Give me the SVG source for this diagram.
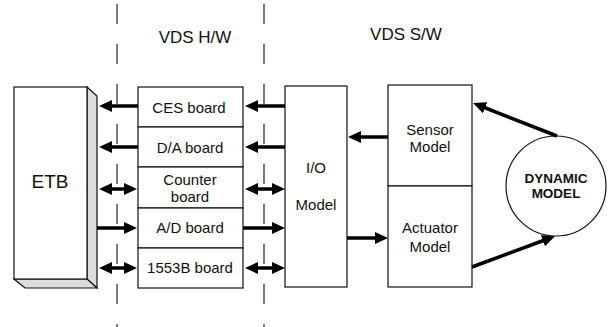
<svg xmlns="http://www.w3.org/2000/svg" width="610" height="327" viewBox="0 0 610 327">
<defs>
<marker id="ah" markerUnits="userSpaceOnUse" markerWidth="14" markerHeight="12" viewBox="0 0 14 12" refX="5" refY="6" orient="auto-start-reverse">
<path d="M0,0 L13,6 L0,12 z" fill="#000"/>
</marker>
<style>
.box{fill:#fff;stroke:#111;stroke-width:1.2}
.dash{stroke:#222;stroke-width:1.2;stroke-dasharray:20 20;fill:none}
.t{font-family:"Liberation Sans",Arial,sans-serif;font-size:15px;fill:#111;text-anchor:middle}
.big{font-size:17px}
.bold{font-weight:bold;font-size:13.5px}
.c{stroke:#000;stroke-width:3.5;fill:none}
.ar{marker-end:url(#ah)}
.dbl{marker-start:url(#ah);marker-end:url(#ah)}
</style>
</defs>
<rect width="610" height="327" fill="#fff"/>
<g id="dividers">
<line class="dash" x1="117" y1="4" x2="117" y2="327"/>
<line class="dash" x1="264" y1="4" x2="264" y2="327"/>
</g>
<g id="labels">
<text class="t big" x="195" y="43">VDS H/W</text>
<text class="t big" x="406" y="40">VDS S/W</text>
</g>
<g id="etb">
<path d="M87,87 L97,96 L97,288 L87,279 Z" fill="#dcdcdc" stroke="#111" stroke-width="1.2"/>
<path d="M14,279 L87,279 L97,288 L25,288 Z" fill="#dcdcdc" stroke="#111" stroke-width="1.2"/>
<rect class="box" x="14" y="87" width="73" height="192"/>
<text class="t" x="50" y="188" style="font-size:19px">ETB</text>
</g>
<g id="ces-board">
<rect class="box" x="138" y="87" width="105" height="40"/>
<text class="t" x="189" y="113">CES board</text>
</g>
<g id="da-board">
<rect class="box" x="138" y="127" width="105" height="40"/>
<text class="t" x="190" y="153">D/A board</text>
</g>
<g id="counter-board">
<rect class="box" x="138" y="167" width="105" height="41"/>
<text class="t" x="190" y="185">Counter</text>
<text class="t" x="190" y="202">board</text>
</g>
<g id="ad-board">
<rect class="box" x="138" y="208" width="105" height="40"/>
<text class="t" x="190" y="233">A/D board</text>
</g>
<g id="b1553-board">
<rect class="box" x="138" y="248" width="105" height="40"/>
<text class="t" x="190" y="273">1553B board</text>
</g>
<g id="io-model">
<rect class="box" x="285" y="86" width="62" height="201"/>
<text class="t" x="316" y="173">I/O</text>
<text class="t" x="316" y="210">Model</text>
</g>
<g id="sensor-model">
<rect class="box" x="388" y="85" width="84" height="101"/>
<text class="t" x="430" y="135">Sensor</text>
<text class="t" x="430" y="152">Model</text>
</g>
<g id="actuator-model">
<rect class="box" x="388" y="186" width="84" height="101"/>
<text class="t" x="430" y="233">Actuator</text>
<text class="t" x="430" y="252">Model</text>
</g>
<g id="dynamic-model">
<circle class="box" cx="556" cy="186" r="50"/>
<text class="t bold" x="556" y="183">DYNAMIC</text>
<text class="t bold" x="556" y="198">MODEL</text>
</g>
<g id="connectors">
<line class="c ar" x1="138" y1="106" x2="107" y2="106"/>
<line class="c ar" x1="138" y1="147" x2="107" y2="147"/>
<line class="c dbl" x1="107" y1="189" x2="129" y2="189"/>
<line class="c ar" x1="97" y1="228" x2="129" y2="228"/>
<line class="c dbl" x1="107" y1="268" x2="129" y2="268"/>
<line class="c ar" x1="285" y1="106" x2="253" y2="106"/>
<line class="c ar" x1="285" y1="147" x2="253" y2="147"/>
<line class="c dbl" x1="253" y1="189" x2="277" y2="189"/>
<line class="c ar" x1="243" y1="228" x2="277" y2="228"/>
<line class="c dbl" x1="253" y1="268" x2="277" y2="268"/>
<line class="c ar" x1="388" y1="137" x2="356" y2="137"/>
<line class="c ar" x1="347" y1="238" x2="380" y2="238"/>
<line class="c ar" x1="557" y1="136" x2="480.5" y2="106"/>
<line class="c ar" x1="472" y1="267" x2="547.5" y2="239"/>
</g>
</svg>
